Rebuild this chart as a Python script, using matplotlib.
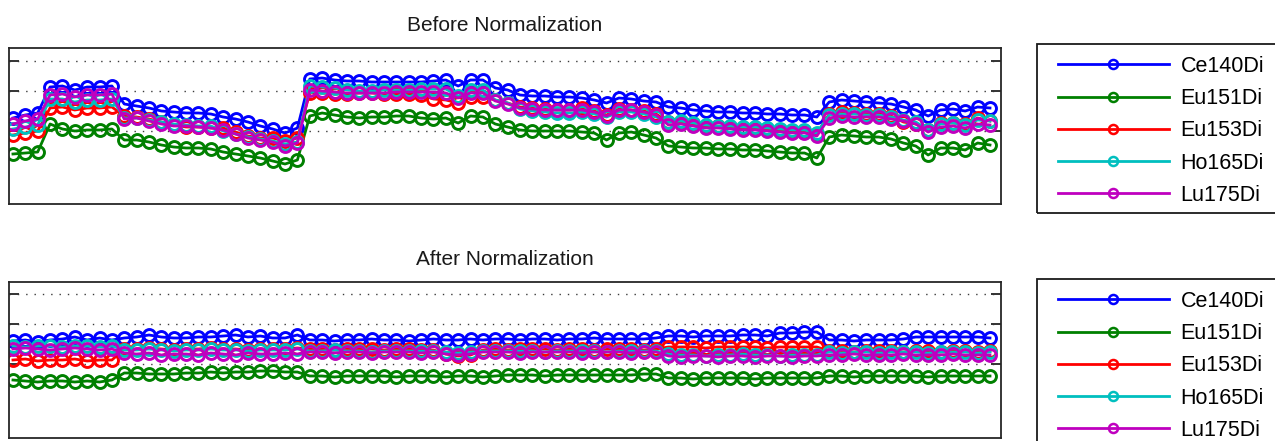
import numpy as np
import matplotlib
matplotlib.use("Agg")
import matplotlib.pyplot as plt
from matplotlib.ticker import NullLocator, NullFormatter, FixedLocator
from matplotlib.patches import Rectangle

plt.rcParams["font.family"] = ["Liberation Sans", "DejaVu Sans"]

channels = ["Ce140Di", "Eu151Di", "Eu153Di", "Ho165Di", "Lu175Di"]
colors = ["#0000ff", "#008000", "#ff0000", "#00bfbf", "#bf00bf"]

# log10 bead intensity per acquisition window, raw
before_ce140 = [2.43, 2.46, 2.48,
                2.74, 2.75, 2.71, 2.74, 2.74, 2.75,
                2.57, 2.55, 2.53, 2.50, 2.49, 2.48, 2.48, 2.47, 2.44, 2.42, 2.39, 2.35, 2.32, 2.28, 2.33,
                2.82, 2.83, 2.81, 2.80, 2.80, 2.79, 2.79, 2.79, 2.79, 2.79, 2.80, 2.81, 2.75, 2.81, 2.81,
                2.73, 2.71, 2.66, 2.65, 2.65, 2.64, 2.64, 2.63, 2.61, 2.58, 2.63, 2.62, 2.60,
                2.59,
                2.54, 2.53, 2.51, 2.50, 2.49, 2.49, 2.48, 2.48, 2.47, 2.47, 2.46, 2.46, 2.44,
                2.59, 2.61, 2.60, 2.59, 2.58, 2.57, 2.54, 2.51, 2.45, 2.51, 2.52, 2.50, 2.54, 2.53]
before_eu151 = [2.07, 2.08, 2.09,
                2.37, 2.32, 2.30, 2.31, 2.31, 2.32,
                2.21, 2.21, 2.19, 2.16, 2.14, 2.13, 2.13, 2.12, 2.09, 2.07, 2.05, 2.03, 2.00, 1.97, 2.01,
                2.45, 2.48, 2.46, 2.44, 2.43, 2.44, 2.44, 2.45, 2.45, 2.43, 2.42, 2.43, 2.38, 2.45, 2.44,
                2.37, 2.34, 2.31, 2.30, 2.30, 2.30, 2.30, 2.29, 2.28, 2.21, 2.28, 2.29, 2.26,
                2.23,
                2.15, 2.14, 2.13, 2.13, 2.12, 2.12, 2.11, 2.11, 2.10, 2.09, 2.08, 2.08, 2.03,
                2.24, 2.26, 2.25, 2.24, 2.24, 2.22, 2.18, 2.15, 2.06, 2.13, 2.13, 2.11, 2.18, 2.16]
before_eu153 = [2.26, 2.28, 2.30,
                2.53, 2.54, 2.51, 2.53, 2.53, 2.54,
                2.45, 2.44, 2.42, 2.39, 2.36, 2.34, 2.34, 2.33, 2.33, 2.29, 2.25, 2.23, 2.23, 2.20, 2.23,
                2.68, 2.68, 2.67, 2.67, 2.68, 2.68, 2.67, 2.67, 2.67, 2.66, 2.62, 2.61, 2.58, 2.64, 2.64,
                2.61, 2.58, 2.54, 2.53, 2.52, 2.51, 2.51, 2.53, 2.50, 2.46, 2.52, 2.51, 2.50,
                2.47,
                2.39, 2.39, 2.37, 2.35, 2.35, 2.34, 2.33, 2.33, 2.32, 2.31, 2.30, 2.30, 2.27,
                2.47, 2.49, 2.48, 2.47, 2.47, 2.45, 2.39, 2.37, 2.31, 2.38, 2.38, 2.37, 2.43, 2.40]
before_ho165 = [2.32, 2.34, 2.36,
                2.62, 2.62, 2.59, 2.61, 2.61, 2.62,
                2.43, 2.43, 2.41, 2.39, 2.37, 2.36, 2.35, 2.35, 2.30, 2.27, 2.24, 2.22, 2.20, 2.17, 2.19,
                2.75, 2.74, 2.73, 2.71, 2.70, 2.70, 2.71, 2.71, 2.71, 2.72, 2.72, 2.72, 2.65, 2.71, 2.71,
                2.61, 2.58, 2.52, 2.50, 2.49, 2.48, 2.48, 2.49, 2.47, 2.44, 2.49, 2.49, 2.47,
                2.44,
                2.39, 2.40, 2.38, 2.36, 2.35, 2.35, 2.34, 2.34, 2.33, 2.32, 2.31, 2.31, 2.28,
                2.46, 2.47, 2.47, 2.46, 2.46, 2.44, 2.41, 2.39, 2.31, 2.37, 2.38, 2.36, 2.41, 2.40]
before_lu175 = [2.37, 2.40, 2.42,
                2.66, 2.67, 2.64, 2.66, 2.66, 2.67,
                2.42, 2.43, 2.40, 2.37, 2.35, 2.35, 2.34, 2.33, 2.31, 2.27, 2.23, 2.21, 2.19, 2.15, 2.18,
                2.71, 2.70, 2.69, 2.68, 2.68, 2.68, 2.68, 2.69, 2.69, 2.69, 2.69, 2.68, 2.63, 2.68, 2.68,
                2.60, 2.57, 2.53, 2.52, 2.51, 2.51, 2.51, 2.51, 2.49, 2.45, 2.51, 2.51, 2.49,
                2.46,
                2.36, 2.37, 2.35, 2.33, 2.33, 2.32, 2.31, 2.31, 2.30, 2.29, 2.28, 2.28, 2.25,
                2.43, 2.45, 2.44, 2.44, 2.44, 2.42, 2.40, 2.37, 2.29, 2.34, 2.35, 2.33, 2.37, 2.36]

# log10 bead intensity per acquisition window, after normalization
after_ce140 = [2.53, 2.54, 2.52, 2.54, 2.55, 2.57, 2.54, 2.56, 2.54,
               2.56, 2.57, 2.59, 2.57, 2.56, 2.56, 2.57, 2.57, 2.58, 2.59, 2.57, 2.58, 2.56, 2.56, 2.59,
               2.54, 2.54, 2.53, 2.54, 2.54, 2.55, 2.54, 2.54, 2.53, 2.54, 2.55, 2.54, 2.54, 2.55, 2.54,
               2.55, 2.55, 2.54, 2.55, 2.55, 2.54, 2.55, 2.55, 2.56, 2.55, 2.55, 2.55, 2.55, 2.56,
               2.58, 2.58, 2.57, 2.58, 2.58, 2.58, 2.59, 2.59, 2.58, 2.61, 2.61, 2.62, 2.62,
               2.54, 2.54, 2.53, 2.54, 2.54, 2.54, 2.55, 2.57, 2.57, 2.57, 2.57, 2.57, 2.57, 2.56]
after_eu151 = [2.14, 2.13, 2.12, 2.13, 2.13, 2.12, 2.13, 2.12, 2.14,
               2.21, 2.21, 2.20, 2.20, 2.20, 2.21, 2.21, 2.22, 2.21, 2.22, 2.22, 2.23, 2.23, 2.22, 2.22,
               2.18, 2.18, 2.17, 2.18, 2.18, 2.18, 2.18, 2.17, 2.18, 2.18, 2.18, 2.17, 2.18, 2.18, 2.17,
               2.18, 2.19, 2.19, 2.19, 2.18, 2.19, 2.19, 2.19, 2.19, 2.19, 2.19, 2.19, 2.20, 2.20,
               2.16, 2.16, 2.15, 2.16, 2.16, 2.16, 2.16, 2.15, 2.16, 2.16, 2.16, 2.16, 2.16,
               2.18, 2.18, 2.17, 2.18, 2.18, 2.18, 2.18, 2.18, 2.17, 2.18, 2.18, 2.18, 2.18, 2.18]
after_eu153 = [2.34, 2.35, 2.33, 2.34, 2.34, 2.35, 2.33, 2.34, 2.34,
               2.45, 2.45, 2.46, 2.45, 2.44, 2.45, 2.45, 2.46, 2.45, 2.45, 2.44, 2.45, 2.45, 2.45, 2.46,
               2.45, 2.45, 2.44, 2.45, 2.45, 2.45, 2.44, 2.45, 2.45, 2.44, 2.44, 2.40, 2.38, 2.39, 2.44,
               2.45, 2.44, 2.45, 2.45, 2.45, 2.44, 2.45, 2.45, 2.44, 2.45, 2.45, 2.45, 2.44, 2.45,
               2.47, 2.47, 2.47, 2.46, 2.47, 2.47, 2.47, 2.47, 2.46, 2.47, 2.47, 2.47, 2.47,
               2.43, 2.43, 2.42, 2.43, 2.43, 2.43, 2.42, 2.43, 2.43, 2.42, 2.43, 2.43, 2.42, 2.43]
after_ho165 = [2.48, 2.47, 2.48, 2.48, 2.47, 2.48, 2.48, 2.47, 2.48,
               2.44, 2.44, 2.45, 2.44, 2.43, 2.44, 2.44, 2.45, 2.44, 2.44, 2.43, 2.44, 2.44, 2.44, 2.45,
               2.43, 2.43, 2.44, 2.43, 2.43, 2.42, 2.43, 2.43, 2.43, 2.43, 2.43, 2.42, 2.41, 2.42, 2.43,
               2.43, 2.43, 2.43, 2.43, 2.42, 2.43, 2.43, 2.43, 2.43, 2.42, 2.43, 2.43, 2.43, 2.43,
               2.40, 2.39, 2.39, 2.38, 2.39, 2.39, 2.40, 2.39, 2.39, 2.38, 2.39, 2.39, 2.39,
               2.42, 2.41, 2.42, 2.42, 2.41, 2.42, 2.42, 2.42, 2.41, 2.42, 2.42, 2.42, 2.41, 2.42]
after_lu175 = [2.45, 2.46, 2.45, 2.44, 2.45, 2.46, 2.45, 2.44, 2.45,
               2.41, 2.40, 2.41, 2.39, 2.40, 2.40, 2.39, 2.41, 2.40, 2.39, 2.41, 2.40, 2.40, 2.41, 2.40,
               2.42, 2.42, 2.41, 2.42, 2.42, 2.41, 2.42, 2.42, 2.42, 2.41, 2.42, 2.40, 2.39, 2.40, 2.42,
               2.42, 2.42, 2.41, 2.42, 2.42, 2.42, 2.42, 2.41, 2.42, 2.42, 2.42, 2.41, 2.42, 2.42,
               2.38, 2.37, 2.38, 2.38, 2.37, 2.38, 2.38, 2.37, 2.38, 2.38, 2.37, 2.38, 2.38,
               2.39, 2.39, 2.40, 2.39, 2.39, 2.39, 2.40, 2.39, 2.39, 2.39, 2.40, 2.39, 2.39, 2.39]

before = [before_ce140, before_eu151, before_eu153, before_ho165, before_lu175]
after = [after_ce140, after_eu151, after_eu153, after_ho165, after_lu175]
titles = ["Before Normalization", "After Normalization"]
grid_ticks = [200, 500, 1000]

W, H = 1275, 441
fig = plt.figure(figsize=(W / 100, H / 100), dpi=100)
fig.patch.set_facecolor("white")

def fx(px):
    return px / W

def fy(py):
    return 1 - py / H

panels = [
    dict(data=before, top=48, bottom=204, ylim=(10 ** 1.57, 10 ** 3.13), box_top=44),
    dict(data=after, top=282, bottom=438, ylim=(10 ** 1.56, 10 ** 3.12), box_top=279),
]

edge = "#262626"
for title, p in zip(titles, panels):
    ax = fig.add_axes([fx(9), fy(p["bottom"]), fx(1001) - fx(9), fy(p["top"]) - fy(p["bottom"])])
    n = len(p["data"][0])
    x = np.arange(1, n + 1)
    handles = []
    for name, col, series in zip(channels, colors, p["data"]):
        ax.plot(x, 10 ** np.asarray(series), color=col, lw=2.0,
                marker="o", ms=8.6, mfc="none", mec=col, mew=2.1)
        # legend entry uses a slimmer marker
        h, = ax.plot([], [], color=col, lw=2.0, marker="o", ms=6.5, mfc="none",
                     mec=col, mew=1.8, label=name)
        handles.append(h)
    ax.set_yscale("log")
    ax.set_xlim(0.68, n + 0.89)
    ax.set_ylim(*p["ylim"])
    ax.yaxis.set_major_locator(FixedLocator(grid_ticks))
    ax.yaxis.set_minor_locator(NullLocator())
    ax.yaxis.set_major_formatter(NullFormatter())
    ax.yaxis.set_minor_formatter(NullFormatter())
    ax.xaxis.set_major_locator(NullLocator())
    ax.xaxis.set_minor_locator(NullLocator())
    ax.tick_params(axis="y", which="major", direction="in", left=True, right=True,
                   length=7.5, width=1.4, color="#333333")
    ax.grid(True, axis="y", which="major", color="#3a3a3a", linestyle=(0, (1, 5)), linewidth=1.0)
    for s in ax.spines.values():
        s.set_color(edge)
        s.set_linewidth(1.3)
    ax.set_title(title, fontsize=15, color="#1a1a1a", pad=12.5)

    # legend frame drawn as a figure rectangle, entries without their own frame
    bt = p["box_top"]
    fig.add_artist(Rectangle((fx(1037), fy(bt + 169)), fx(1295) - fx(1037), fy(bt) - fy(bt + 169),
                             transform=fig.transFigure, fill=False, ec="#1a1a1a", lw=1.3))
    fig.legend(handles=handles, loc="upper left", bbox_to_anchor=(fx(1058), fy(bt + 12)),
               frameon=False, fontsize=15.5, borderpad=0, borderaxespad=0,
               handlelength=5.15, handletextpad=0.55, labelspacing=0.52, numpoints=1)

fig.savefig("out.png", dpi=100)
